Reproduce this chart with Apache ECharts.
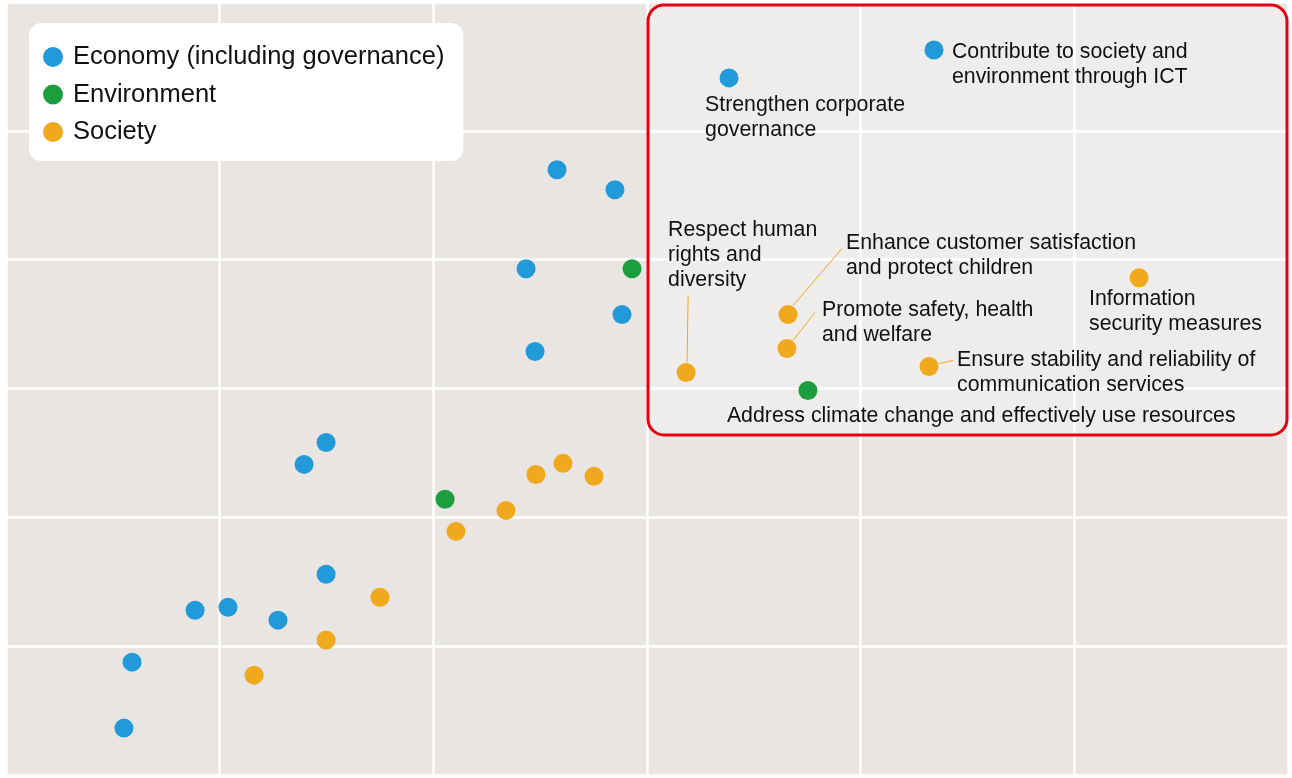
<!DOCTYPE html>
<html><head><meta charset="utf-8">
<script src="https://cdn.jsdelivr.net/npm/echarts@6/dist/echarts.min.js"></script>
<style>html,body{margin:0;padding:0;background:#fff}#c{width:1292px;height:778px}</style>
</head><body><div id="c"></div><script>
// ---- data (grid units 0..6 on both axes) ----
const seriesNames = ['Economy (including governance)', 'Environment', 'Society'];
const economyPoints = [[3.384,5.411],[4.343,5.628],[2.579,4.698],[2.850,4.543],[2.434,3.930],[2.883,3.574],[2.476,3.287],[1.498,2.581],[1.395,2.411],[1.498,1.558],[0.885,1.279],[1.039,1.302],[1.273,1.202],[0.590,0.876],[0.552,0.364]];
const economyLabels = ['Strengthen corporate\ngovernance','Contribute to society and\nenvironment through ICT','','','','','','','','','','','','',''];
const environmentPoints = [[2.930,3.930],[3.753,2.984],[2.055,2.140]];
const environmentLabels = ['','Address climate change and effectively use resources',''];
const societyPoints = [[5.303,3.860],[3.660,3.574],[3.655,3.310],[3.183,3.124],[4.320,3.171],[2.480,2.333],[2.607,2.419],[2.752,2.318],[2.340,2.054],[2.106,1.891],[1.750,1.380],[1.498,1.047],[1.161,0.775]];
const societyLabels = ['Information\nsecurity measures','Enhance customer satisfaction\nand protect children','Promote safety, health\nand welfare','Respect human\nrights and\ndiversity','Ensure stability and reliability of\ncommunication services','','','','','','','',''];
const xTicks = [0,1,2,3,4,5,6];
const yTicks = [0,1,2,3,4,5,6];

// ---- styling (pixel offsets for annotation text / leader lines) ----
const colors = ['#2299d8','#1c9e3f','#f0a81c'];
const labelStyle = {
  'Strengthen corporate\ngovernance': {dx:-24, dy:14.5},
  'Contribute to society and\nenvironment through ICT': {dx:18, dy:-10.5},
  'Address climate change and effectively use resources': {dx:-81, dy:13.5},
  'Information\nsecurity measures': {dx:-50, dy:8.5},
  'Enhance customer satisfaction\nand protect children': {dx:58, dy:-83.5, line:[5,-9,54,-66]},
  'Promote safety, health\nand welfare': {dx:35, dy:-50.5, line:[6,-8,28,-36]},
  'Respect human\nrights and\ndiversity': {dx:-18, dy:-154.5, line:[1,-10,2,-76]},
  'Ensure stability and reliability of\ncommunication services': {dx:28, dy:-18.5, line:[10,-3,24,-6]}
};
const FONT = '"Liberation Sans", Arial, Helvetica, sans-serif';

function buildData(points, labels){
  return points.map((p,i)=>{
    const item = {value:p, name:labels[i]};
    if (labels[i]) {
      const s = labelStyle[labels[i]];
      item.label = {show:true, position:'inside', align:'left', verticalAlign:'top',
        offset:[s.dx, s.dy], formatter:'{b}', color:'#111111', fontSize:21.3, lineHeight:25,
        fontFamily:FONT, textBorderWidth:0};
    }
    return item;
  });
}

const chart = echarts.init(document.getElementById('c'), null, {renderer:'canvas'});
const allPts = [economyPoints, environmentPoints, societyPoints];
const allLbls = [economyLabels, environmentLabels, societyLabels];

const option = {
  animation:false,
  backgroundColor:'#ffffff',
  grid:{left:6, right:4, top:2, bottom:3, show:true, backgroundColor:'#e9e5e3', borderWidth:0},
  xAxis:{type:'value', min:xTicks[0], max:xTicks[xTicks.length-1], interval:1,
    axisLine:{show:false}, axisTick:{show:false}, axisLabel:{show:false},
    splitLine:{show:true, lineStyle:{color:'#ffffff', width:2.5}}},
  yAxis:{type:'value', min:yTicks[0], max:yTicks[yTicks.length-1], interval:1,
    axisLine:{show:false}, axisTick:{show:false}, axisLabel:{show:false},
    splitLine:{show:true, lineStyle:{color:'#ffffff', width:2.5}}},
  legend:{show:true, orient:'vertical', left:29, top:23, padding:[21,19,16,14],
    backgroundColor:'#ffffff', borderRadius:12, itemWidth:30, itemHeight:20, itemGap:11.5,
    icon:'circle', data:seriesNames,
    textStyle:{fontSize:25.5, lineHeight:20, color:'#111111', fontFamily:FONT}},
  series: seriesNames.map((n,k)=>({
    name:n, type:'scatter', symbol:'circle', symbolSize:19,
    itemStyle:{color:colors[k], opacity:1},
    emphasis:{disabled:true},
    label:{show:false},
    z: 3,
    data: buildData(allPts[k], allLbls[k])
  }))
};
chart.setOption(option);

// annotation box & leader lines
const graphics = [];
const tl = chart.convertToPixel({gridIndex:0},[3,6]);
const br = chart.convertToPixel({gridIndex:0},[6,2.64]);
graphics.push({type:'rect', z:1, silent:true,
  shape:{x:tl[0]+1, y:tl[1]+3, width:br[0]-tl[0]-2, height:br[1]-tl[1]-3, r:16},
  style:{fill:'rgba(255,255,255,0.3)', stroke:'#e60012', lineWidth:3}});
allPts.forEach((pts,k)=>{
  pts.forEach((p,i)=>{
    const l = allLbls[k][i];
    if (l && labelStyle[l].line) {
      const c = chart.convertToPixel({gridIndex:0}, p);
      const L = labelStyle[l].line;
      graphics.push({type:'line', z:2, silent:true,
        shape:{x1:c[0]+L[0], y1:c[1]+L[1], x2:c[0]+L[2], y2:c[1]+L[3]},
        style:{stroke:colors[k], lineWidth:1}});
    }
  });
});
chart.setOption({graphic:graphics});
</script></body></html>
